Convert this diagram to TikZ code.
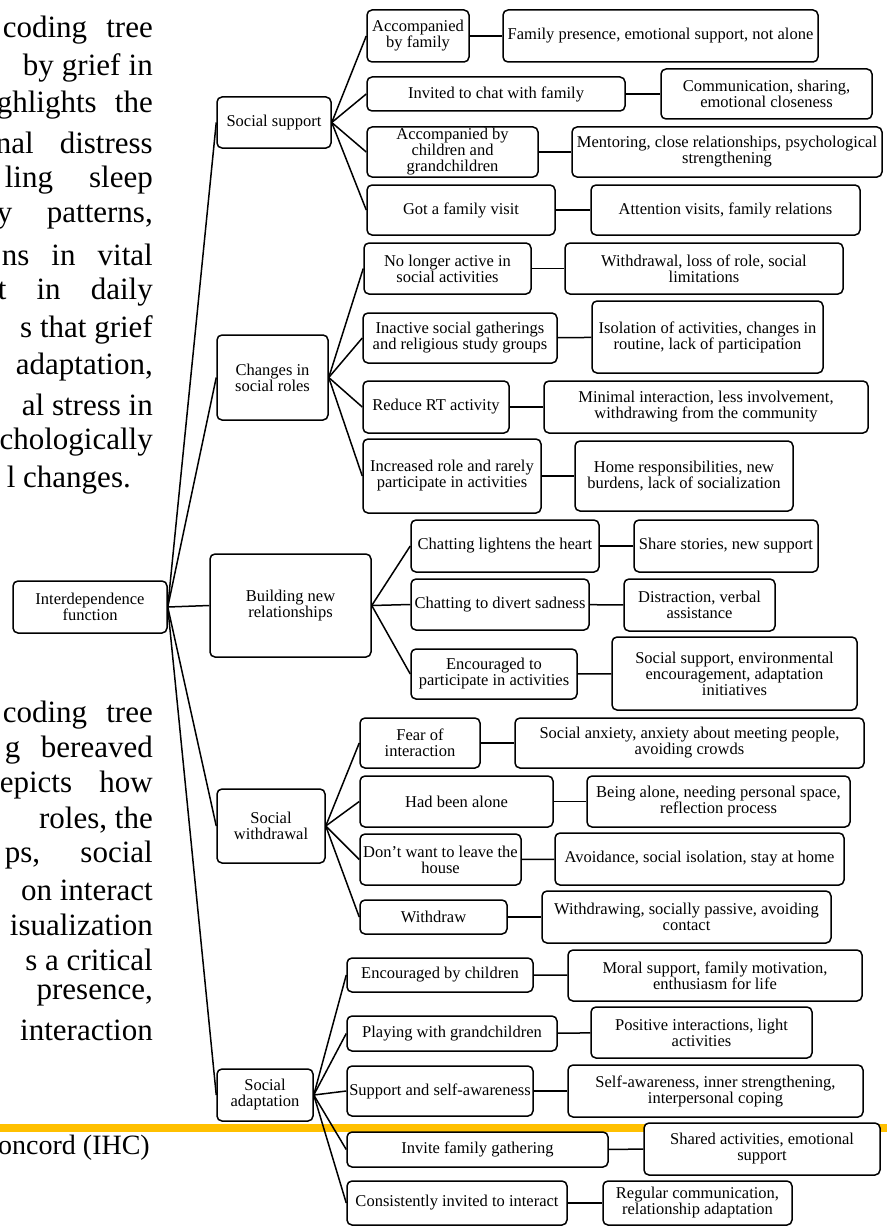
\documentclass[tikz,border=0pt]{standalone}
\usepackage{fontspec}
\setmainfont{Liberation Serif}
\usepackage{xcolor}

\definecolor{barorange}{HTML}{FFC000}
\newcommand{\boxfont}{\fontsize{16.5}{16}\selectfont}
\newcommand{\parafont}{\fontsize{31}{31}\selectfont}

\begin{document}
\begin{tikzpicture}[
        x=1pt, y=-1pt,
        box/.style={rectangle, draw, line width=1.5pt, rounded corners=5pt, fill=white, align=center, inner xsep=1pt, inner ysep=0pt, font=\boxfont},
        link/.style={line width=1.5pt},
        para/.style={anchor=east, inner sep=0pt, font=\parafont},
    ]
    \useasboundingbox (0,0) rectangle (887,1228);
    \clip (0,0) rectangle (887,1228);

    % Page text behind the figure
    \node[para] (p1) at (153,30) {\makebox[150pt][s]{coding tree}};
    \node[para] (p2) at (153,67.5) {\makebox[130pt][s]{by grief in}};
    \node[para] (p3) at (153,105) {\makebox[156pt][s]{ghlights the}};
    \node[para] (p4) at (153,142.5) {\makebox[157pt][s]{nal distress}};
    \node[para] (p5) at (153,180) {\makebox[148pt][s]{ling sleep}};
    \node[para] (p6) at (153,217.5) {\makebox[156pt][s]{y patterns,}};
    \node[para] (p7) at (153,255) {\makebox[151pt][s]{ns in vital}};
    \node[para] (p8) at (153,292.5) {\makebox[155pt][s]{t in daily}};
    \node[para] (p9) at (153,330) {s that grief};
    \node[para] (p10) at (153,367.5) {adaptation,};
    \node[para] (p11) at (153,405) {al stress in};
    \node[para] (p12) at (153,442.5) {chologically};
    \node[para] (p13) at (131,480) {l changes.};

    \node[para] (q1) at (153,715) {\makebox[150pt][s]{coding tree}};
    \node[para] (q2) at (153,750) {\makebox[148pt][s]{g bereaved}};
    \node[para] (q3) at (153,785) {\makebox[153pt][s]{epicts how}};
    \node[para] (q4) at (153,820) {roles, the};
    \node[para] (q5) at (153,855) {\makebox[148pt][s]{ps, social}};
    \node[para] (q6) at (153,890) {on interact};
    \node[para] (q7) at (153,925) {isualization};
    \node[para] (q8) at (153,960) {s a critical};
    \node[para] (q9) at (153,995) {presence,};
    \node[para] (q10) at (153,1030) {interaction};

    % Footer rule and running title
    \fill[barorange] (0,1124) rectangle (887,1132);
    \node[para, anchor=west, font=\fontsize{28}{28}\selectfont] (foot) at (-2,1148) {oncord (IHC)};

    % Root and main themes
    \node[box, minimum width=154, minimum height=52] (root) at (90,607) {Interdependence\\function};
    \node[box, minimum width=114, minimum height=51] (sup) at (274,122.5) {Social support};
    \node[box, minimum width=111, minimum height=85] (roles) at (272.5,377.5) {Changes in\\social roles};
    \node[box, minimum width=161, minimum height=103] (rel) at (290.5,605.5) {Building new\\relationships};
    \node[box, minimum width=108, minimum height=74] (wd) at (271,826) {Social\\withdrawal};
    \node[box, minimum width=96, minimum height=52] (adapt) at (265,1095) {Social\\adaptation};

    \draw[link] (root.east) -- (sup.west);
    \draw[link] (root.east) -- (roles.west);
    \draw[link] (root.east) -- (rel.west);
    \draw[link] (root.east) -- (wd.west);
    \draw[link] (root.east) -- (adapt.west);

    % Social support
    \node[box, minimum width=102, minimum height=52] (famacc) at (418,36) {Accompanied\\by family};
    \node[box, minimum width=258, minimum height=34] (chat) at (496,94) {Invited to chat with family};
    \node[box, minimum width=171, minimum height=50] (kids) at (452.5,152) {Accompanied by\\children and\\grandchildren};
    \node[box, minimum width=188, minimum height=50] (visit) at (461,210) {Got a family visit};
    \node[box, minimum width=315, minimum height=52] (famacck) at (660.5,36) {Family presence, emotional support, not alone};
    \node[box, minimum width=211, minimum height=50] (chatk) at (766.5,94) {Communication, sharing,\\emotional closeness};
    \node[box, minimum width=310, minimum height=50] (kidsk) at (727,152) {Mentoring, close relationships, psychological\\strengthening};
    \node[box, minimum width=269, minimum height=50] (visitk) at (725.5,210) {Attention visits, family relations};

    \draw[link] (sup.east) -- (famacc.west);
    \draw[link] (sup.east) -- (chat.west);
    \draw[link] (sup.east) -- (kids.west);
    \draw[link] (sup.east) -- (visit.west);
    \draw[link] (famacc) -- (famacck);
    \draw[link] (chat) -- (chatk);
    \draw[link] (kids) -- (kidsk);
    \draw[link] (visit) -- (visitk);

    % Changes in social roles
    \node[box, minimum width=167, minimum height=51] (inactive) at (447.5,268.5) {No longer active in\\social activities};
    \node[box, minimum width=194, minimum height=50] (gather) at (460,338) {Inactive social gatherings\\and religious study groups};
    \node[box, minimum width=146, minimum height=52] (rt) at (436,407) {Reduce RT activity};
    \node[box, minimum width=178, minimum height=74] (role) at (452,476) {Increased role and rarely\\participate in activities};
    \node[box, minimum width=278, minimum height=51] (inactivek) at (704,268.5) {Withdrawal, loss of role, social\\limitations};
    \node[box, minimum width=231, minimum height=72] (gatherk) at (707.5,337) {Isolation of activities, changes in\\routine, lack of participation};
    \node[box, minimum width=324, minimum height=52] (rtk) at (706,407) {Minimal interaction, less involvement,\\withdrawing from the community};
    \node[box, minimum width=218, minimum height=70] (rolek) at (684,476) {Home responsibilities, new\\burdens, lack of socialization};

    \draw[link] (roles.east) -- (inactive.west);
    \draw[link] (roles.east) -- (gather.west);
    \draw[link] (roles.east) -- (rt.west);
    \draw[link] (roles.east) -- (role.west);
    \draw[link] (inactive) -- (inactivek);
    \draw[link] (gather) -- (gatherk);
    \draw[link] (rt) -- (rtk);
    \draw[link] (role) -- (rolek);

    % Building new relationships
    \node[box, minimum width=188, minimum height=52] (light) at (505,546) {Chatting lightens the heart};
    \node[box, minimum width=178, minimum height=51] (divert) at (500,604.5) {Chatting to divert sadness};
    \node[box, minimum width=166, minimum height=50] (encour) at (494,674) {Encouraged to\\participate in activities};
    \node[box, minimum width=184, minimum height=52] (lightk) at (726,546) {Share stories, new support};
    \node[box, minimum width=151, minimum height=52] (divertk) at (699.5,605) {Distraction, verbal\\assistance};
    \node[box, minimum width=245, minimum height=73] (encourk) at (734.5,673.5) {Social support, environmental\\encouragement, adaptation\\initiatives};

    \draw[link] (rel.east) -- (light.west);
    \draw[link] (rel.east) -- (divert.west);
    \draw[link] (rel.east) -- (encour.west);
    \draw[link] (light) -- (lightk);
    \draw[link] (divert) -- (divertk);
    \draw[link] (encour) -- (encourk);

    % Social withdrawal
    \node[box, minimum width=120, minimum height=50] (fear) at (420,743) {Fear of\\interaction};
    \node[box, minimum width=193, minimum height=51] (alone) at (456.5,801.5) {Had been alone};
    \node[box, minimum width=161, minimum height=51] (house) at (440.5,859.5) {Don't want to leave the\\house};
    \node[box, minimum width=147, minimum height=34] (withdraw) at (433.5,917) {Withdraw};
    \node[box, minimum width=349, minimum height=50] (feark) at (689.5,743) {Social anxiety, anxiety about meeting people,\\avoiding crowds};
    \node[box, minimum width=263, minimum height=51] (alonek) at (718.5,801.5) {Being alone, needing personal space,\\reflection process};
    \node[box, minimum width=289, minimum height=52] (housek) at (699.5,859) {Avoidance, social isolation, stay at home};
    \node[box, minimum width=289, minimum height=52] (withdrawk) at (686.5,917) {Withdrawing, socially passive, avoiding\\contact};

    \draw[link] (wd.east) -- (fear.west);
    \draw[link] (wd.east) -- (alone.west);
    \draw[link] (wd.east) -- (house.west);
    \draw[link] (wd.east) -- (withdraw.west);
    \draw[link] (fear) -- (feark);
    \draw[link] (alone) -- (alonek);
    \draw[link] (house) -- (housek);
    \draw[link] (withdraw) -- (withdrawk);

    % Social adaptation
    \node[box, minimum width=186, minimum height=34] (bychild) at (440,975) {Encouraged by children};
    \node[box, minimum width=210, minimum height=35] (play) at (452,1033.5) {Playing with grandchildren};
    \node[box, minimum width=186, minimum height=50] (selfaw) at (440,1091) {Support and self-awareness};
    \node[box, minimum width=261, minimum height=35] (invite) at (477.5,1149.5) {Invite family gathering};
    \node[box, minimum width=220, minimum height=44] (consist) at (457,1203) {Consistently invited to interact};
    \node[box, minimum width=294, minimum height=51] (bychildk) at (715,975.5) {Moral support, family motivation,\\enthusiasm for life};
    \node[box, minimum width=221, minimum height=51] (playk) at (701.5,1032.5) {Positive interactions, light\\activities};
    \node[box, minimum width=295, minimum height=52] (selfawk) at (715.5,1091) {Self-awareness, inner strengthening,\\interpersonal coping};
    \node[box, minimum width=236, minimum height=52] (invitek) at (762,1149) {Shared activities, emotional\\support};
    \node[box, minimum width=189, minimum height=44] (consistk) at (697.5,1203) {Regular communication,\\relationship adaptation};

    \draw[link] (adapt.east) -- (bychild.west);
    \draw[link] (adapt.east) -- (play.west);
    \draw[link] (adapt.east) -- (selfaw.west);
    \draw[link] (adapt.east) -- (invite.west);
    \draw[link] (adapt.east) -- (consist.west);
    \draw[link] (bychild) -- (bychildk);
    \draw[link] (play) -- (playk);
    \draw[link] (selfaw) -- (selfawk);
    \draw[link] (invite) -- (invitek);
    \draw[link] (consist) -- (consistk);

\end{tikzpicture}
\end{document}
